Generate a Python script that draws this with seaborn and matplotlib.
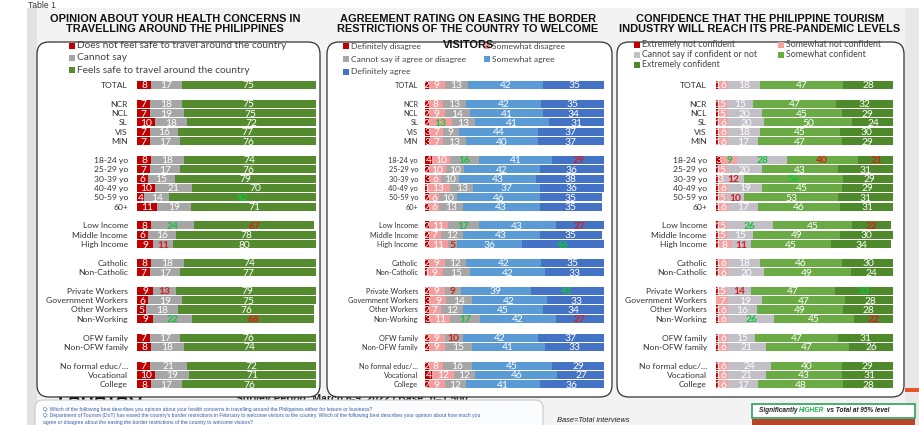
import numpy as np
import pandas as pd
import matplotlib
matplotlib.use("Agg")
import matplotlib.pyplot as plt
import seaborn as sns
from matplotlib.patches import FancyBboxPatch, Rectangle

# ---------------- DATA ----------------
groups = [
    ["TOTAL"],
    ["NCR", "NCL", "SL", "VIS", "MIN"],
    ["18-24 yo", "25-29 yo", "30-39 yo", "40-49 yo", "50-59 yo", "60+"],
    ["Low Income", "Middle Income", "High Income"],
    ["Catholic", "Non-Catholic"],
    ["Private Workers", "Government Workers", "Other Workers", "Non-Working"],
    ["OFW family", "Non-OFW family"],
    ["No formal educ/\u2026", "Vocational", "College"],
]
rows = [r for g in groups for r in g]

# Panel 1: health concerns
p1_title = "OPINION ABOUT YOUR HEALTH CONCERNS IN\nTRAVELLING AROUND THE PHILIPPINES"
p1_series = ["Does not feel safe to travel around the country", "Cannot say",
             "Feels safe to travel around the country"]
p1_not_safe = [8, 7, 7, 10, 7, 7, 8, 7, 6, 10, 4, 11, 8, 6, 9, 8, 7, 9, 6, 5, 9, 7, 8, 7, 10, 8]
p1_cannot_say = [17, 18, 19, 18, 16, 17, 18, 17, 15, 21, 14, 19, 24, 16, 11, 18, 17, 13, 19, 18, 22, 17, 18, 21, 19, 17]
p1_safe = [75, 75, 75, 72, 77, 76, 74, 76, 79, 70, 82, 71, 67, 78, 80, 74, 77, 79, 75, 76, 68, 76, 74, 72, 71, 76]
p1_sig = {("50-59 yo", 2): "hi", ("Low Income", 1): "hi", ("Low Income", 2): "lo",
          ("High Income", 1): "lo", ("Private Workers", 1): "lo",
          ("Non-Working", 1): "hi", ("Non-Working", 2): "lo"}

# Panel 2: border easing agreement
p2_title = "AGREEMENT RATING ON EASING THE BORDER\nRESTRICTIONS OF THE COUNTRY TO WELCOME\nVISITORS"
p2_series = ["Definitely disagree", "Somewhat disagree", "Cannot say if agree or disagree",
             "Somewhat agree", "Definitely agree"]
p2_def_disagree = [2, 2, 2, 2, 3, 3, 4, 2, 3, 1, 2, 2, 2, 2, 2, 2, 1, 2, 3, 2, 3, 2, 2, 2, 4, 2]
p2_some_disagree = [9, 8, 9, 13, 7, 7, 10, 10, 6, 13, 6, 6, 11, 7, 11, 9, 9, 9, 9, 7, 11, 9, 9, 8, 12, 9]
p2_cannot_say = [13, 13, 14, 13, 9, 13, 16, 10, 10, 13, 10, 13, 17, 12, 5, 12, 15, 9, 14, 12, 17, 10, 15, 16, 12, 12]
p2_some_agree = [42, 42, 41, 41, 44, 40, 41, 42, 43, 37, 46, 43, 43, 43, 36, 42, 42, 39, 42, 45, 42, 42, 41, 45, 46, 41]
p2_def_agree = [35, 35, 34, 31, 37, 37, 29, 36, 38, 36, 35, 35, 27, 35, 46, 35, 33, 41, 33, 34, 27, 37, 33, 29, 27, 36]
p2_sig = {("SL", 1): "hi", ("18-24 yo", 2): "hi", ("18-24 yo", 4): "lo",
          ("Low Income", 2): "hi", ("Low Income", 4): "lo",
          ("High Income", 2): "lo", ("High Income", 4): "hi",
          ("Private Workers", 2): "lo", ("Private Workers", 4): "hi",
          ("Non-Working", 2): "hi", ("Non-Working", 4): "lo",
          ("OFW family", 2): "lo"}

# Panel 3: tourism confidence
p3_title = "CONFIDENCE THAT THE PHILIPPINE TOURISM\nINDUSTRY WILL REACH ITS PRE-PANDEMIC LEVELS"
p3_series = ["Extremely not confident", "Somewhat not confident", "Cannot say if confident or not",
             "Somewhat confident", "Extremely confident"]
p3_ext_not = [1, 1, 1, 1, 1, 1, 3, 1, 1, 1, 1, 1, 1, 1, 1, 1, 1, 1, 0, 1, 1, 1, 1, 1, 1, 1]
p3_some_not = [6, 5, 5, 6, 6, 6, 9, 5, 3, 6, 5, 6, 5, 5, 8, 6, 6, 5, 7, 6, 6, 6, 6, 6, 6, 6]
p3_cannot_say = [18, 15, 20, 20, 18, 17, 28, 20, 12, 19, 10, 17, 26, 15, 11, 18, 20, 14, 19, 16, 26, 15, 21, 24, 21, 17]
p3_some_conf = [47, 47, 45, 50, 45, 47, 40, 43, 56, 45, 53, 46, 45, 49, 45, 46, 49, 47, 47, 49, 45, 47, 47, 40, 43, 48]
p3_ext_conf = [28, 32, 29, 24, 30, 29, 21, 31, 29, 29, 31, 31, 22, 30, 34, 30, 24, 33, 28, 28, 22, 31, 26, 29, 31, 28]
p3_sig = {("18-24 yo", 1): "hi", ("18-24 yo", 2): "hi", ("18-24 yo", 3): "lo", ("18-24 yo", 4): "lo",
          ("30-39 yo", 2): "lo", ("30-39 yo", 3): "hi", ("50-59 yo", 2): "lo",
          ("Low Income", 2): "hi", ("Low Income", 4): "lo", ("High Income", 2): "lo",
          ("Private Workers", 2): "lo", ("Private Workers", 4): "hi",
          ("Non-Working", 2): "hi", ("Non-Working", 4): "lo"}

footnotes = [
    "Q: Which of the following best describes you opinion about your health concerns in travelling around the Philippines either for leisure or business?",
    "Q: Department of Tourism (DoT) has eased the country's border restrictions in February to welcome visitors to the country. Which of the following best describes your opinion about how much you",
    "agree or disagree about the easing the border restrictions of the country to welcome visitors?",
]

# ---------------- STYLE ----------------
sns.set_theme(style="white")
plt.rcParams["font.family"] = ["Lato", "DejaVu Sans"]

W, H = 920, 425
fig = plt.figure(figsize=(W / 100, H / 100), dpi=100)
fig.patch.set_facecolor("white")

bg = fig.add_axes([0, 0, 1, 1], zorder=0)
bg.set_xlim(0, W)
bg.set_ylim(H, 0)
bg.axis("off")

# textured-looking background
bg.add_patch(Rectangle((27, 8), W - 27, H - 8, facecolor="#F3F3F3", edgecolor="none", zorder=0))
bg.add_patch(Rectangle((27, 8), 10, H - 8, facecolor="#E2E2E2", edgecolor="none", zorder=0))
bg.add_patch(Rectangle((905, 8), 15, H - 8, facecolor="#E8E8E8", edgecolor="none", zorder=0))
bg.add_patch(Rectangle((905, 388), 15, 4, facecolor="#E8532A", edgecolor="none", zorder=0.5))
bg.text(28, 0.5, "Table 1", fontsize=6.2, family=["Liberation Sans"], va="top", ha="left", color="#333333")

# peeking logo text behind boxes
bg.text(58, 402, "PAHAYAG", fontsize=13, fontweight="heavy", family=["Liberation Sans"],
        color="#111111", ha="left", va="baseline", zorder=0.6)
bg.text(236, 402, "Survey Period: March 6-9, 2022 | Base: n=1,500", fontsize=7.5, fontweight="bold",
        family=["Liberation Sans"], color="#222222", ha="left", va="baseline", zorder=0.6)

# panel boxes
boxes = [(37, 42, 283, 355), (327, 42, 285, 355), (617, 42, 287, 355)]
for (x0, y0, w, h) in boxes:
    bg.add_patch(FancyBboxPatch((x0, y0), w, h, boxstyle="round,pad=0,rounding_size=12",
                                facecolor="white", edgecolor="#333333", linewidth=0.9, zorder=1))

# footer box
bg.add_patch(FancyBboxPatch((35, 400), 508, 40, boxstyle="round,pad=0,rounding_size=8",
                            facecolor="#FBFCFE", edgecolor="#C8C8C8", linewidth=0.8, zorder=1))
for i, line in enumerate(footnotes):
    bg.text(43, 409.5 + i * 6.5, line, fontsize=3.6, color="#3B5CA8", family=["Liberation Sans"],
            ha="left", va="center", zorder=2)
bg.text(557, 421, "Base=Total interviews", fontsize=5.4, style="italic", family=["Liberation Sans"],
        color="#222222", ha="left", va="center", zorder=2)
bg.add_patch(Rectangle((752, 404), 163, 14, facecolor="white", edgecolor="#2EA05A", linewidth=1.2, zorder=2))
bg.add_patch(Rectangle((752, 419), 163, 8, facecolor="#B5452B", edgecolor="none", zorder=2))
tx = bg.text(759, 411, "Significantly ", fontsize=4.7, fontweight="bold", style="italic",
             family=["Liberation Sans"], color="#222222", ha="left", va="center", zorder=3)
fig.canvas.draw()
def after(t, s, color):
    bb = t.get_window_extent()
    x = bg.transData.inverted().transform((bb.x1, bb.y0))[0]
    return bg.text(x, 411, s, fontsize=4.7, fontweight="bold", style="italic",
                   family=["Liberation Sans"], color=color, ha="left", va="center", zorder=3)
t2 = after(tx, "HIGHER", "#22B050")
fig.canvas.draw()
after(t2, " vs Total at 95% level", "#222222")

# titles
title_font = dict(fontsize=7.9, fontweight="bold", family=["Liberation Sans"], color="#111111",
                  ha="center", va="top", linespacing=1.05, zorder=4)
bg.text(175, 14, p1_title, **title_font)
p2_lines = p2_title.split("\n")
bg.text(468, 14, "\n".join(p2_lines[:2]), **title_font)
bg.text(468, 40, p2_lines[2], **title_font)
bg.text(760, 14, p3_title, **title_font)

# ---------------- PANELS ----------------
order = []
for gi, g in enumerate(groups):
    if gi > 0:
        order.append(" " * gi)
    order.extend(g)
pos = {name: i for i, name in enumerate(order)}

HI_COL = "#12C43A"
LO_COL = "#D81E1E"

def panel(rect, series_vals, colors, sig, tick_pad, tick_size):
    ax = fig.add_axes(rect, zorder=3)
    ax.patch.set_alpha(0)
    df = pd.DataFrame({"row": rows})
    cum = np.zeros(len(rows))
    cums = []
    for vals in series_vals:
        cum = cum + np.array(vals)
        cums.append(cum.copy())
    for k in range(len(series_vals) - 1, -1, -1):
        df["cum"] = cums[k]
        sns.barplot(data=df, x="cum", y="row", order=order, orient="h", color=colors[k],
                    saturation=1, width=0.86, errorbar=None, ax=ax, linewidth=0)
    for i, r in enumerate(rows):
        left = 0
        for k, vals in enumerate(series_vals):
            v = vals[i]
            if v > 0:
                s = sig.get((r, k))
                col = "white" if s is None else (HI_COL if s == "hi" else LO_COL)
                ax.text(left + v / 2, pos[r], str(v), ha="center", va="center_baseline",
                        fontsize=7.4, color=col, fontweight="bold" if s else "normal",
                        clip_on=True)
            left += v
    ax.set_xlim(0, 100)
    ax.set_ylim(len(order) - 0.5, -0.5)
    ax.set_xlabel("")
    ax.set_ylabel("")
    ax.set_xticks([])
    for sp in ax.spines.values():
        sp.set_visible(False)
    ax.tick_params(axis="y", length=0, pad=tick_pad, labelsize=tick_size, labelcolor="#333333")
    return ax

ax_h = (389 - 80.3) / H
ax_b = 1 - 389 / H

c1 = ["#C00000", "#A6A6A6", "#548B2E"]
c2 = ["#C00000", "#F29E9E", "#A6A6A6", "#5B9BD5", "#4472C4"]
c3 = ["#C00000", "#F4A3A3", "#C2BFC6", "#6BAB45", "#4E8A2C"]

panel([137 / W, ax_b, 179 / W, ax_h], [p1_not_safe, p1_cannot_say, p1_safe], c1, p1_sig, 6.5, 6.1)
panel([425 / W, ax_b, 179 / W, ax_h],
      [p2_def_disagree, p2_some_disagree, p2_cannot_say, p2_some_agree, p2_def_agree], c2, p2_sig, 5, 5.3)
panel([716 / W, ax_b, 177 / W, ax_h],
      [p3_ext_not, p3_some_not, p3_cannot_say, p3_some_conf, p3_ext_conf], c3, p3_sig, 6.5, 6.1)

# ---------------- LEGENDS ----------------
def legend_item(x, y, color, label, fs):
    bg.add_patch(Rectangle((x, y - 3), 6, 6, facecolor=color, edgecolor="none", zorder=3))
    bg.text(x + 8, y, label, fontsize=fs, color="#444444", ha="left", va="center", zorder=3)

for j, (lab, col) in enumerate(zip(p1_series, c1)):
    legend_item(69, 45.5 + j * 12.3, col, lab, 7.3)

p2_pos = [(343, 46), (484, 46), (343, 59), (484, 59), (343, 71.5)]
for (x, y), lab, col in zip(p2_pos, p2_series, c2):
    legend_item(x, y, col, lab, 6.1)

p3_pos = [(634, 44.5), (778, 44.5), (634, 54.5), (778, 54.5), (634, 64.5)]
for (x, y), lab, col in zip(p3_pos, p3_series, c3):
    legend_item(x, y, col, lab, 6.3)

fig.savefig("out.png", dpi=100, facecolor="white")
